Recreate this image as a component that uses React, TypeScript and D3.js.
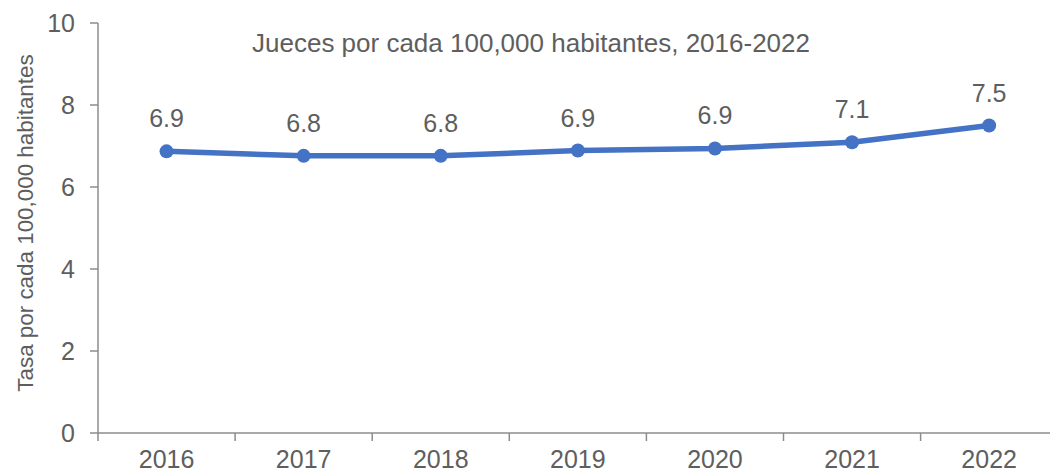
import React from "react";
import * as d3 from "d3";

const years = ["2016", "2017", "2018", "2019", "2020", "2021", "2022"];
const values = [6.87, 6.76, 6.76, 6.89, 6.94, 7.09, 7.5];
const labels = ["6.9", "6.8", "6.8", "6.9", "6.9", "7.1", "7.5"];
const yTicks = [0, 2, 4, 6, 8, 10];
const title = "Jueces por cada 100,000 habitantes, 2016-2022";
const yTitle = "Tasa por cada 100,000 habitantes";

const W = 1050;
const H = 473;
const left = 98;
const bottom = 433;
const top = 23;
const band = 137.1;

export default function App() {
  const x = d3.scaleBand<string>().domain(years).range([left, left + band * years.length]).padding(0);
  const y = d3.scaleLinear().domain([0, 10]).range([bottom, top]);
  const cx = (yr: string) => (x(yr) as number) + x.bandwidth() / 2;
  const line = d3
    .line<number>()
    .x((_, i) => cx(years[i]))
    .y((d) => y(d));
  const boundaries = years.map((yr) => x(yr) as number).concat([left + band * years.length]);
  const axisColor = "#8c8c8c";
  const textColor = "#5e5e5e";
  const font = "'Liberation Sans', Arial, sans-serif";

  return (
    <svg
      width={W}
      height={H}
      style={{ position: "absolute", left: 0, top: 0, background: "#fff" }}
      fontFamily={font}
    >
      <rect x={0} y={0} width={W} height={H} fill="#fff" />
      {/* y axis */}
      <line x1={left} x2={left} y1={y(10)} y2={y(0)} stroke={axisColor} strokeWidth={1.5} />
      {yTicks.map((t) => (
        <g key={t}>
          <line x1={left - 8} x2={left} y1={y(t)} y2={y(t)} stroke={axisColor} strokeWidth={1.5} />
          <text x={75} y={y(t)} dy="0.36em" textAnchor="end" fontSize={25} fill={textColor}>
            {t}
          </text>
        </g>
      ))}
      {/* x axis */}
      <line x1={left} x2={W} y1={bottom} y2={bottom} stroke={axisColor} strokeWidth={1.5} />
      {boundaries.map((b, i) => (
        <line key={i} x1={b} x2={b} y1={bottom} y2={bottom + 8} stroke={axisColor} strokeWidth={1.5} />
      ))}
      {years.map((yr) => (
        <text key={yr} x={cx(yr)} y={467.5} textAnchor="middle" fontSize={25} fill={textColor}>
          {yr}
        </text>
      ))}
      {/* y title */}
      <text
        transform={`translate(33,223) rotate(-90)`}
        textAnchor="middle"
        fontSize={22.4}
        fill={textColor}
      >
        {yTitle}
      </text>
      {/* title */}
      <text x={252} y={52} fontSize={26} fill={textColor}>
        {title}
      </text>
      {/* line */}
      <path d={line(values) || ""} fill="none" stroke="#4472C4" strokeWidth={5.5} strokeLinejoin="round" />
      {values.map((v, i) => (
        <circle key={i} cx={cx(years[i])} cy={y(v)} r={7} fill="#4472C4" />
      ))}
      {values.map((v, i) => (
        <text
          key={"l" + i}
          x={cx(years[i])}
          y={y(v) - 24}
          textAnchor="middle"
          fontSize={25}
          fill={textColor}
        >
          {labels[i]}
        </text>
      ))}
    </svg>
  );
}
